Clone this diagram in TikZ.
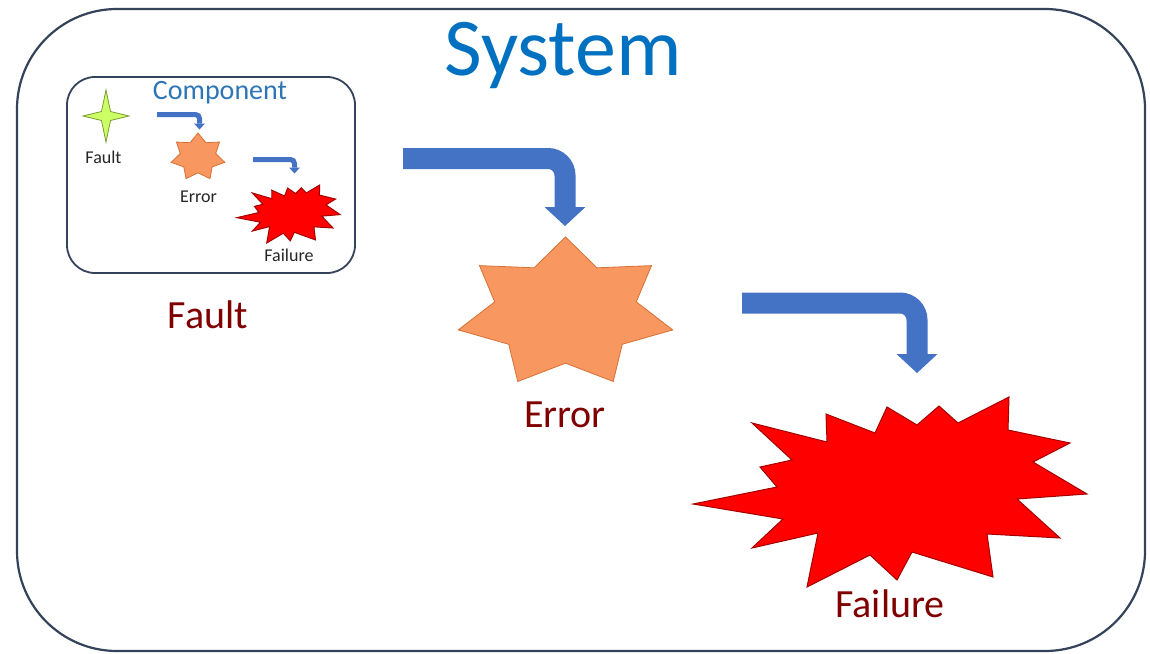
\documentclass[tikz,border=0pt]{standalone}
\usepackage{fontspec}
\setmainfont{Carlito}
\usetikzlibrary{arrows.meta}

\definecolor{framecol}{RGB}{52,66,90}
\definecolor{titleblue}{RGB}{0,112,192}
\definecolor{compblue}{RGB}{46,117,182}
\definecolor{arrowblue}{RGB}{68,114,196}
\definecolor{labelred}{RGB}{128,0,0}
\definecolor{errfill}{RGB}{248,152,96}
\definecolor{erredge}{RGB}{214,112,52}
\definecolor{failfill}{RGB}{255,0,0}
\definecolor{failedge}{RGB}{165,0,0}
\definecolor{faultfill}{RGB}{204,255,102}
\definecolor{faultedge}{RGB}{125,155,50}

\tikzset{
  % rounded frames
  sysframe/.style={draw=framecol, line width=2.2pt, rounded corners=100pt,
    inner sep=0pt, minimum width=1128pt, minimum height=642pt},
  compframe/.style={draw=framecol, line width=1.8pt, rounded corners=28pt,
    inner sep=0pt, minimum width=288pt, minimum height=196pt},
  % bent block arrows
  bigarrow/.style={draw=arrowblue, line width=21pt, rounded corners=17pt,
    -{Triangle[width=41pt, length=19pt, line width=0pt]}},
  smallarrow/.style={draw=arrowblue, line width=5pt, rounded corners=4pt,
    -{Triangle[width=11pt, length=6pt, line width=0pt]}},
  % shape fills
  faultshape/.style={fill=faultfill, draw=faultedge, line width=0.8pt, line join=miter, transform shape},
  errshape/.style={fill=errfill, draw=erredge, line width=0.8pt, line join=miter, transform shape},
  failshape/.style={fill=failfill, draw=failedge, line width=1pt, line join=miter, transform shape},
  % texts
  bigtitle/.style={text=titleblue, font=\fontsize{82}{90}\selectfont, anchor=base, inner sep=0pt},
  comptitle/.style={text=compblue, font=\fontsize{28}{32}\selectfont, anchor=base, inner sep=0pt},
  biglabel/.style={text=labelred, font=\fontsize{40}{46}\selectfont, anchor=base, inner sep=0pt},
  smalllabel/.style={text=black!85, font=\fontsize{18}{21}\selectfont, anchor=base, inner sep=0pt},
  % four-point star
  fourstar/.pic={\draw[pic actions] (0,-26) -- (4.5,-4.5) -- (23,0) -- (4.5,4.5)
      -- (0,26) -- (-4.5,4.5) -- (-23,0) -- (-4.5,-4.5) -- cycle;},
  % seven-point star of unit radius
  sevenstar/.pic={\draw[pic actions] plot[samples at={0,...,13}]
      ({(1-0.34*mod(\x,2))*cos(90+\x*180/7)}, {-(1-0.34*mod(\x,2))*sin(90+\x*180/7)}) -- cycle;},
  % explosion outline
  boom/.pic={\draw[pic actions] (-197,12) -- (-113,-5) -- (-130,-25) -- (-98,-32)
      -- (-138,-69) -- (-63,-50) -- (-64,-78) -- (-15,-59) -- (-3,-85) -- (27,-67)
      -- (49,-86) -- (68,-69) -- (119,-95) -- (118,-62) -- (180,-49) -- (143,-30)
      -- (197,2) -- (127,7) -- (170,46) -- (97,42) -- (103,85) -- (22,60) -- (7,88)
      -- (-20,63) -- (-83,95) -- (-72,41) -- (-138,56) -- (-107,27) -- cycle;}
}

\begin{document}
\begin{tikzpicture}[x=1pt, y=-1pt]
  \useasboundingbox (0,0) rectangle (1150,653);
  \fill[white] (0,0) rectangle (1150,653);

  % frames
  \node[sysframe] (system) at (581,330) {};
  \node[compframe] (component) at (211,175) {};

  % titles
  \node[bigtitle] (systitle) at (563,75) {System};
  \node[comptitle] (comptitle) at (220,99) {Component};

  % shape centres
  \coordinate (faultS) at (106,116);
  \coordinate (errS) at (198,157);
  \coordinate (failS) at (288.5,214);
  \coordinate (errB) at (565.5,313);
  \coordinate (failB) at (890,492);

  % small shapes inside the component
  \begin{scope}[shift={(faultS)}]
    \pic[faultshape] {fourstar};
  \end{scope}
  \begin{scope}[shift={(errS)}, xscale=27.5, yscale=24]
    \pic[errshape] {sevenstar};
  \end{scope}
  \begin{scope}[shift={(failS)}, xscale=0.262, yscale=0.305]
    \pic[failshape] {boom};
  \end{scope}

  % large shapes
  \begin{scope}[shift={(errB)}, xscale=110, yscale=76]
    \pic[errshape] {sevenstar};
  \end{scope}
  \begin{scope}[shift={(failB)}]
    \pic[failshape] {boom};
  \end{scope}

  % arrow end points
  \coordinate (s1a) at (157,114.5);
  \coordinate (s1b) at (199.5,129.5);
  \coordinate (s2a) at (253,159.5);
  \coordinate (s2b) at (294.5,173.5);
  \coordinate (b1a) at (403,158.5);
  \coordinate (b1b) at (565,226);
  \coordinate (b2a) at (742,303);
  \coordinate (b2b) at (917,373);

  \draw[smallarrow] (s1a) -| (s1b);
  \draw[smallarrow] (s2a) -| (s2b);
  \draw[bigarrow] (b1a) -| (b1b);
  \draw[bigarrow] (b2a) -| (b2b);

  % labels
  \node[smalllabel] (lfault) at (103.5,163) {Fault};
  \node[smalllabel] (lerror) at (198.5,202) {Error};
  \node[smalllabel] (lfailure) at (289,261) {Failure};
  \node[biglabel] (bfault) at (208,328) {Fault};
  \node[biglabel] (berror) at (565,427) {Error};
  \node[biglabel] (bfailure) at (890,617) {Failure};
\end{tikzpicture}
\end{document}
